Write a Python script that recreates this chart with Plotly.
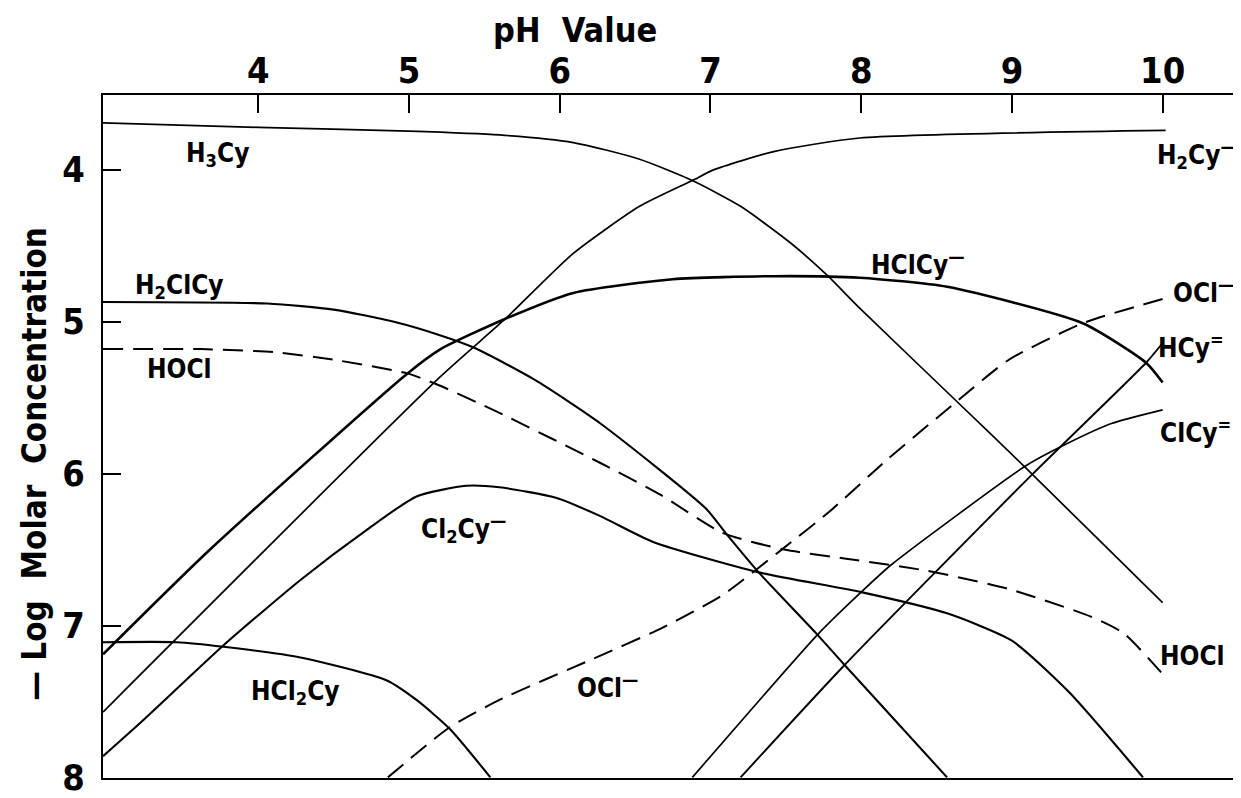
import plotly.graph_objects as go

# pH values (x) and -log molar concentration (y)
h3cy_ph = [2.97, 4.0, 5.0, 5.6, 6.09, 6.53, 6.88, 7.2, 7.53, 7.77, 7.99, 8.64, 9.09, 10.0]
h3cy_c = [3.69, 3.72, 3.745, 3.77, 3.82, 3.93, 4.07, 4.24, 4.48, 4.69, 4.91, 5.53, 5.96, 6.85]

h2cy_ph = [2.97, 5.21, 5.64, 6.09, 6.53, 6.88, 7.02, 7.42, 7.99, 10.02]
h2cy_c = [7.57, 5.36, 4.98, 4.55, 4.24, 4.07, 4.0, 3.88, 3.79, 3.74]

hclcy_ph = [2.97, 3.68, 4.99, 5.21, 5.64, 6.09, 6.75, 7.42, 7.99, 8.57, 9.47, 9.89, 10.0]
hclcy_c = [7.19, 6.5, 5.34, 5.18, 4.98, 4.81, 4.72, 4.70, 4.71, 4.77, 5.01, 5.27, 5.40]

cl2cy_ph = [2.97, 3.24, 3.77, 4.28, 4.72, 5.05, 5.38, 5.6, 5.98, 6.27, 6.62, 7.32, 8.0, 8.57, 9.0, 9.38, 9.87]
cl2cy_c = [7.86, 7.62, 7.13, 6.70, 6.37, 6.15, 6.08, 6.09, 6.16, 6.28, 6.45, 6.65, 6.78, 6.92, 7.1, 7.44, 8.0]

h2clcy_ph = [2.97, 4.06, 4.5, 4.9, 5.21, 5.43, 5.83, 6.27, 6.97, 7.1, 7.32, 7.7, 7.89, 8.57]
h2clcy_c = [4.87, 4.88, 4.92, 5.0, 5.09, 5.17, 5.38, 5.67, 6.23, 6.39, 6.65, 7.05, 7.26, 8.0]

hcl2cy_ph = [2.97, 3.46, 3.77, 4.28, 4.85, 5.05, 5.27, 5.54]
hcl2cy_c = [7.11, 7.11, 7.14, 7.21, 7.36, 7.49, 7.68, 8.0]

hcy_ph = [7.2, 7.89, 9.14, 9.89, 10.0]
hcy_c = [8.0, 7.26, 6.0, 5.27, 5.14]

clcy_ph = [6.88, 7.72, 8.0, 8.2, 9.09, 9.33, 9.66, 10.0]
clcy_c = [8.0, 7.05, 6.78, 6.6, 5.95, 5.82, 5.67, 5.58]

hocl_ph = [2.97, 3.62, 4.1, 4.5, 4.99, 5.18, 5.6, 6.27, 6.67, 7.08, 7.49, 7.9, 8.44, 8.98, 9.52, 9.74, 10.0]
hocl_c = [5.18, 5.18, 5.2, 5.25, 5.34, 5.41, 5.6, 5.93, 6.14, 6.39, 6.5, 6.56, 6.64, 6.76, 6.94, 7.05, 7.32]

ocl_ph = [4.86, 5.27, 5.6, 6.22, 6.67, 7.08, 7.46, 7.79, 8.17, 8.64, 8.98, 9.47, 10.0]
ocl_c = [8.0, 7.67, 7.49, 7.22, 7.02, 6.8, 6.51, 6.25, 5.91, 5.52, 5.25, 5.01, 4.85]

# curve labels
label_text = ["H<sub>3</sub>Cy", "H<sub>2</sub>Cy<sup>—</sup>", "H<sub>2</sub>ClCy", "HOCl",
              "HClCy<sup>—</sup>", "OCl<sup>—</sup>", "HCy<sup>=</sup>", "ClCy<sup>=</sup>",
              "Cl<sub>2</sub>Cy<sup>—</sup>", "HOCl", "OCl<sup>—</sup>", "HCl<sub>2</sub>Cy"]
label_ph = [3.73, 10.23, 3.48, 3.48, 8.38, 10.27, 10.19, 10.22, 5.36, 10.2, 6.32, 4.25]
label_c = [3.9, 3.9, 4.77, 5.31, 4.61, 4.8, 5.16, 5.72, 6.36, 7.2, 7.4, 7.44]

FONT = "DejaVu Sans Condensed, Liberation Sans Narrow, Arial Narrow, DejaVu Sans, sans-serif"

curves = [
    (h3cy_ph, h3cy_c, 1.7, "solid"),
    (h2cy_ph, h2cy_c, 1.7, "solid"),
    (hclcy_ph, hclcy_c, 2.6, "solid"),
    (cl2cy_ph, cl2cy_c, 2.1, "solid"),
    (h2clcy_ph, h2clcy_c, 2.1, "solid"),
    (hcl2cy_ph, hcl2cy_c, 2.1, "solid"),
    (hcy_ph, hcy_c, 1.9, "solid"),
    (clcy_ph, clcy_c, 1.7, "solid"),
    (hocl_ph, hocl_c, 2.0, "20px,10px"),
    (ocl_ph, ocl_c, 2.0, "20px,10px"),
]

fig = go.Figure()
for xs, ys, w, dash in curves:
    fig.add_trace(go.Scatter(
        x=xs, y=ys, mode="lines",
        line=dict(color="black", width=w, dash=dash, shape="spline", smoothing=0.6),
        showlegend=False, hoverinfo="skip",
    ))

for t, px, c in zip(label_text, label_ph, label_c):
    fig.add_annotation(x=px, y=c, xref="x", yref="y", text=t, showarrow=False,
                       font=dict(family=FONT, size=26, color="black", weight="bold"))

fig.add_annotation(x=0.416, y=1.095, xref="paper", yref="paper", text="pH  Value",
                   xanchor="center", yanchor="middle", showarrow=False,
                   font=dict(family=FONT, size=34, color="black", weight="bold"))
fig.add_annotation(x=-0.06, y=0.46, xref="paper", yref="paper",
                   text="— Log  Molar  Concentration", textangle=-90,
                   xanchor="center", yanchor="middle", showarrow=False,
                   font=dict(family=FONT, size=33, color="black", weight="bold"))

fig.update_xaxes(
    range=[2.97, 10.5], side="top", tickvals=[4, 5, 6, 7, 8, 9, 10],
    ticks="inside", ticklen=18, tickwidth=2, tickcolor="black",
    showline=True, linecolor="black", linewidth=2, mirror=True,
    showgrid=False, zeroline=False, ticklabelstandoff=-4, automargin=False,
    tickfont=dict(family=FONT, size=36, color="black", weight="bold"),
)
fig.update_yaxes(
    range=[8.004, 3.507], tickvals=[4, 5, 6, 7, 8],
    ticks="inside", ticklen=18, tickwidth=2, tickcolor="black",
    showline=True, linecolor="black", linewidth=2, mirror=True,
    showgrid=False, zeroline=False, ticklabelstandoff=9, automargin=False,
    ticklabeloverflow="allow",
    tickfont=dict(family=FONT, size=36, color="black", weight="bold"),
)

# the page body adds an 8px margin, so the figure is a little smaller than the window
fig.update_layout(
    width=1233, height=790,
    margin=dict(l=95, r=3, t=87, b=20),
    paper_bgcolor="white", plot_bgcolor="white",
)

fig.write_html("out.html")
